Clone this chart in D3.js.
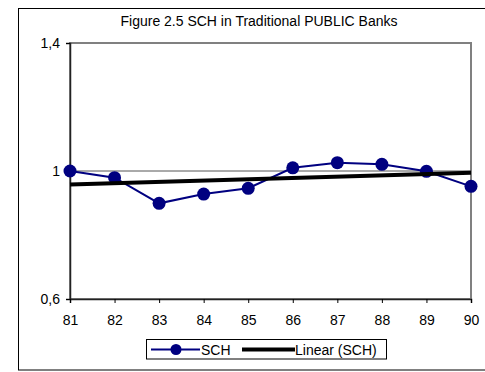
<!DOCTYPE html>
<html>
<head>
<meta charset="utf-8">
<script src="https://cdn.jsdelivr.net/npm/d3@7"></script>
<style>
  body { margin: 0; background: #fff; }
  text { font-family: "Liberation Sans", Arial, sans-serif; fill: #000; }
</style>
</head>
<body>
<div id="chart"></div>
<script>
// data
var years = ["81", "82", "83", "84", "85", "86", "87", "88", "89", "90"];
var sch = [1.0, 0.979, 0.899, 0.928, 0.946, 1.010, 1.026, 1.021, 0.999, 0.952];
var yTicks = [0.6, 1, 1.4];
var yTickLabels = ["0,6", "1", "1,4"];

var width = 485, height = 372;
var plot = {left: 70, right: 471, top: 43, bottom: 299};
var fontSize = "14px";

var svg = d3.select("#chart").append("svg")
    .attr("width", width)
    .attr("height", height);

// outer chart border (runs off the right edge)
svg.append("rect")
    .attr("x", 18.5).attr("y", 8.5)
    .attr("width", 480).attr("height", 361.5)
    .attr("fill", "none").attr("stroke", "#000").attr("stroke-width", 1);

var x = d3.scalePoint().domain(years).range([plot.left, plot.right]);
var y = d3.scaleLinear().domain([0.6, 1.4]).range([plot.bottom, plot.top]);

// title
svg.append("text")
    .attr("x", 259).attr("y", 26)
    .attr("text-anchor", "middle")
    .style("font-size", fontSize)
    .text("Figure 2.5 SCH in Traditional PUBLIC Banks");

// plot frame
svg.append("rect")
    .attr("x", plot.left).attr("y", plot.top)
    .attr("width", plot.right - plot.left).attr("height", plot.bottom - plot.top)
    .attr("fill", "none").attr("stroke", "#808080").attr("stroke-width", 2);

// gridline at 1
svg.append("line")
    .attr("x1", plot.left).attr("x2", plot.right)
    .attr("y1", y(1)).attr("y2", y(1))
    .attr("stroke", "#555").attr("stroke-width", 1);

// axes
var yAxis = d3.axisLeft(y).tickValues(yTicks).tickSize(4).tickPadding(6)
    .tickFormat(function(d, i) { return yTickLabels[i]; });
var gy = svg.append("g").attr("transform", "translate(" + plot.left + ",0)").call(yAxis);

var xAxis = d3.axisBottom(x).tickSize(4).tickPadding(12);
var gx = svg.append("g").attr("transform", "translate(0," + plot.bottom + ")").call(xAxis);

[gx, gy].forEach(function(g) {
  g.selectAll("text").style("font-size", fontSize).attr("fill", "#000");
  g.selectAll("line").attr("stroke", "#000");
  g.select(".domain").attr("stroke", "#222").attr("stroke-width", 1.5);
});

// linear trend (least squares on the SCH series)
var xi = sch.map(function(d, i) { return i + 1; });
var mx = d3.mean(xi), my = d3.mean(sch);
var slope = d3.sum(xi, function(v, i) { return (v - mx) * (sch[i] - my); }) /
            d3.sum(xi, function(v) { return (v - mx) * (v - mx); });
var icept = my - slope * mx;
var trend = years.map(function(yr, i) { return {yr: yr, v: icept + slope * (i + 1)}; });

var line = d3.line()
    .x(function(d) { return x(d.yr); })
    .y(function(d) { return y(d.v); });

var series = years.map(function(yr, i) { return {yr: yr, v: sch[i]}; });

svg.append("path")
    .datum(series)
    .attr("d", line)
    .attr("fill", "none")
    .attr("stroke", "#000080")
    .attr("stroke-width", 2);

svg.selectAll("circle.pt")
    .data(series)
    .enter()
    .append("circle")
    .attr("class", "pt")
    .attr("cx", function(d) { return x(d.yr); })
    .attr("cy", function(d) { return y(d.v); })
    .attr("r", 6.5)
    .attr("fill", "#000080");

svg.append("path")
    .datum([trend[0], trend[trend.length - 1]])
    .attr("d", line)
    .attr("fill", "none")
    .attr("stroke", "#000")
    .attr("stroke-width", 4);

// legend
var lg = svg.append("g");
lg.append("rect")
    .attr("x", 146.5).attr("y", 339.5)
    .attr("width", 240).attr("height", 19.5)
    .attr("fill", "#fff").attr("stroke", "#000").attr("stroke-width", 1);
lg.append("line")
    .attr("x1", 151).attr("x2", 200).attr("y1", 349.5).attr("y2", 349.5)
    .attr("stroke", "#000080").attr("stroke-width", 2);
lg.append("circle").attr("cx", 176).attr("cy", 349.5).attr("r", 5.5).attr("fill", "#000080");
lg.append("text").attr("x", 201).attr("y", 355).style("font-size", fontSize).text("SCH");
lg.append("line")
    .attr("x1", 242).attr("x2", 295).attr("y1", 349.5).attr("y2", 349.5)
    .attr("stroke", "#000").attr("stroke-width", 4);
lg.append("text").attr("x", 295).attr("y", 355).style("font-size", fontSize).text("Linear (SCH)");
</script>
</body>
</html>
